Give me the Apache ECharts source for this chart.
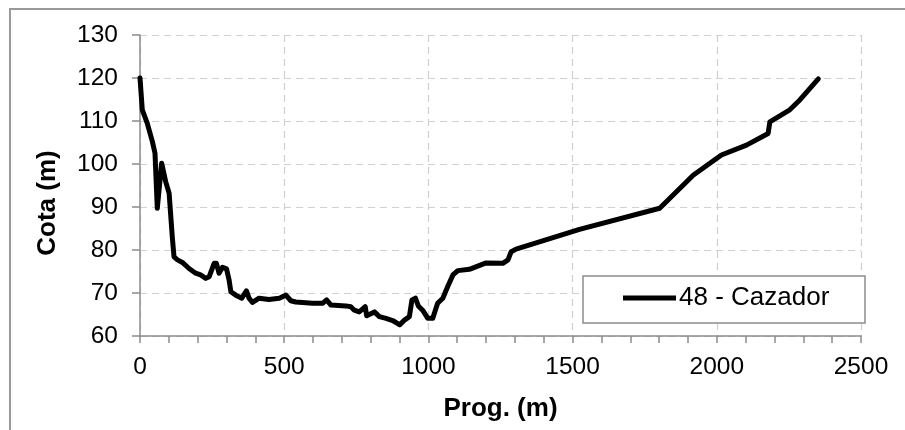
<!DOCTYPE html>
<html>
<head>
<meta charset="utf-8">
<script src="https://cdn.jsdelivr.net/npm/echarts@6/dist/echarts.min.js"></script>
<style>html,body{margin:0;padding:0;background:#fff}#c{width:905px;height:430px}</style>
</head>
<body>
<div id="c"></div>
<script>
var seriesName = '48 - Cazador';
var xAxisName = 'Prog. (m)';
var yAxisName = 'Cota (m)';
var prog = [0, 8, 25, 43, 52, 60, 62, 75, 89, 101, 112, 118, 130, 147, 170, 193, 210, 228, 240, 257, 265, 274, 286, 300, 309, 315, 332, 353, 369, 378, 390, 413, 447, 483, 506, 523, 540, 598, 633, 647, 662, 714, 731, 743, 760, 781, 786, 813, 830, 853, 876, 901, 917, 934, 943, 955, 965, 980, 998, 1015, 1032, 1050, 1067, 1085, 1102, 1142, 1200, 1258, 1276, 1287, 1304, 1524, 1802, 1918, 2016, 2103, 2178, 2184, 2253, 2288, 2352];
var cota = [120, 112.6, 109.5, 105.2, 102.5, 89.7, 90, 100.2, 95.9, 93.2, 83, 78.4, 77.7, 77.1, 75.7, 74.6, 74.2, 73.4, 73.8, 76.9, 76.9, 74.6, 76, 75.6, 73, 70.3, 69.5, 68.8, 70.5, 68.8, 67.8, 68.8, 68.5, 68.8, 69.5, 68.2, 67.9, 67.6, 67.6, 68.4, 67.2, 67, 66.8, 66, 65.6, 66.8, 64.7, 65.6, 64.5, 64.1, 63.6, 62.6, 63.7, 64.5, 68.4, 68.8, 67, 66, 64.1, 64.1, 67.6, 68.8, 71.5, 74.2, 75.2, 75.5, 77, 76.9, 77.7, 79.6, 80.2, 84.8, 89.7, 97.4, 102.1, 104.4, 107.1, 109.8, 112.6, 114.9, 119.8];
var xTicks = [0, 500, 1000, 1500, 2000, 2500];
var yTicks = [60, 70, 80, 90, 100, 110, 120, 130];

var data = prog.map(function (p, i) { return [p, cota[i]]; });
var font = '"Liberation Sans", Arial, sans-serif';
var chart = echarts.init(document.getElementById('c'), null, {renderer: 'canvas'});
chart.setOption({
  animation: false,
  textStyle: {fontFamily: font},
  grid: {left: 140, right: 44, top: 35, bottom: 94},
  graphic: [
    {type: 'rect', shape: {x: 10, y: 9, width: 910, height: 440}, style: {fill: 'none', stroke: '#999', lineWidth: 2}, z: 100},
    {type: 'rect', shape: {x: 583, y: 276, width: 282, height: 47}, style: {fill: '#fff', stroke: '#8c8c8c', lineWidth: 1.5}, z: 5},
    {type: 'text', x: 48, y: 203, rotation: Math.PI / 2, z: 10,
     style: {text: yAxisName, font: 'bold 26px ' + font, fill: '#000', textAlign: 'center', textVerticalAlign: 'middle'}}
  ],
  legend: {
    show: true, left: 623, top: 285, padding: 0, itemGap: 0,
    itemWidth: 53, itemHeight: 5, icon: 'rect',
    z: 10,
    textStyle: {fontSize: 26, color: '#000', fontFamily: font, padding: [0, 0, 0, -2]},
    data: [{name: seriesName, icon: 'rect'}]
  },
  xAxis: {
    type: 'value', min: xTicks[0], max: xTicks[xTicks.length - 1], interval: 500,
    name: xAxisName, nameLocation: 'middle', nameGap: 60,
    nameTextStyle: {fontSize: 26, fontWeight: 'bold', color: '#000', fontFamily: font},
    axisLine: {show: true, onZero: false, lineStyle: {color: '#8c8c8c', width: 1.5}},
    axisTick: {show: true, length: 7, lineStyle: {color: '#8c8c8c', width: 1.5}},
    minorTick: {show: true, splitNumber: 5, length: 7, lineStyle: {color: '#8c8c8c', width: 1.5}},
    axisLabel: {fontSize: 24.5, color: '#000', margin: 19, fontFamily: font, formatter: function (v) { return String(v); }},
    splitLine: {show: true, lineStyle: {color: '#d0d0d0', type: [7, 5], width: 1.2}}
  },
  yAxis: {
    type: 'value', min: yTicks[0], max: yTicks[yTicks.length - 1], interval: 10,
    name: '',
    axisLine: {show: true, lineStyle: {color: '#8c8c8c', width: 1.5}},
    axisTick: {show: true, length: 8, lineStyle: {color: '#8c8c8c', width: 1.5}},
    axisLabel: {fontSize: 24.5, color: '#000', margin: 22, fontFamily: font, formatter: function (v) { return String(v); }},
    splitLine: {show: true, lineStyle: {color: '#d0d0d0', type: [7, 5], width: 1.2}}
  },
  series: [{
    name: seriesName, type: 'line', data: data, showSymbol: false,
    lineStyle: {color: '#000', width: 5, join: 'round', cap: 'round'},
    itemStyle: {color: '#000'}, z: 3
  }]
});
</script>
</body>
</html>
